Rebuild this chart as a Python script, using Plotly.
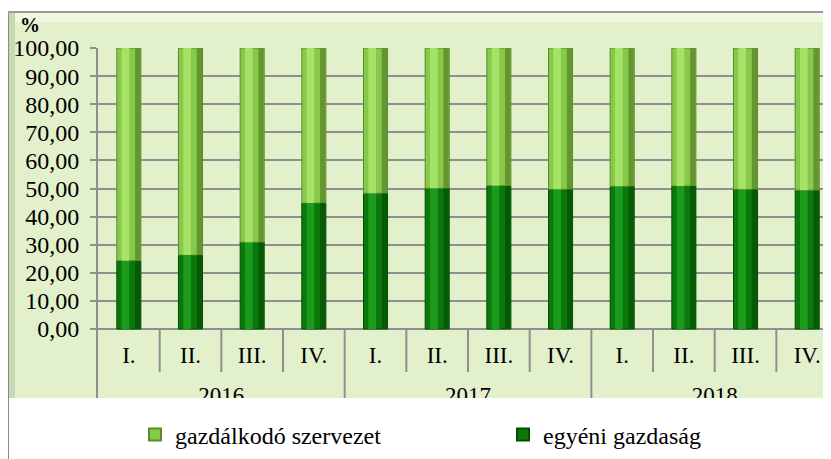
import plotly.graph_objects as go

# ---- data ----
quarters = ["I.", "II.", "III.", "IV.", "I.", "II.", "III.", "IV.", "I.", "II.", "III.", "IV."]
years = ["2016", "2017", "2018"]
egyeni = [24.3, 26.3, 30.9, 44.8, 48.3, 50.1, 51.0, 49.7, 50.8, 50.9, 49.7, 49.4]
gazdalkodo = [75.7, 73.7, 69.1, 55.2, 51.7, 49.9, 49.0, 50.3, 49.2, 49.1, 50.3, 50.6]
y_ticks = [0, 10, 20, 30, 40, 50, 60, 70, 80, 90, 100]
series_names = ["gazdálkodó szervezet", "egyéni gazdaság"]

W, H = 831, 459
FONT = "Liberation Serif, serif"
GRID = "#8f8f8f"

# plot area geometry (figure px)
L, T, PW, PH = 90, 40, 733, 350
B = H - T - PH
R = W - L - PW


def px(x):
    return (x - L) / PW


def py(y):
    return (T + PH - y) / PH


xs = list(range(len(quarters)))
n_per_year = len(quarters) // len(years)
year_centers = [i * n_per_year + (n_per_year - 1) / 2 for i in range(len(years))]

Y_BOTTOM = 100 - PH / 2.81
BW = 0.39

fig = go.Figure()

# main bars
fig.add_trace(go.Bar(x=xs, y=egyeni, base=[0] * len(xs), width=BW, name=series_names[1],
                     marker=dict(color="#0b780b", line=dict(color="#034d03", width=1)),
                     legend="legend2"))
fig.add_trace(go.Bar(x=xs, y=gazdalkodo, base=egyeni, width=BW, name=series_names[0],
                     marker=dict(color="#88c94b", line=dict(color="#5a8c2c", width=1)),
                     legend="legend"))


def stripe(vals, base, w, off, color):
    fig.add_trace(go.Bar(x=xs, y=vals, base=base, width=BW * w, offset=BW * off,
                         marker=dict(color=color, line=dict(width=0)),
                         showlegend=False, hoverinfo="skip"))


zero = [0] * len(xs)
# cylinder-like shading: bright stripe left of centre, dark right edge
stripe(egyeni, zero, 0.32, -0.3, "#1c9a1c")
stripe(egyeni, zero, 0.22, 0.26, "#055a05")
stripe(gazdalkodo, egyeni, 0.32, -0.3, "#a6e267")
stripe(gazdalkodo, egyeni, 0.22, 0.26, "#64952f")

# category dividers
minor_x, minor_y, major_x, major_y = [], [], [], []
for i in range(len(quarters) - 1):
    b = i + 0.5
    if (i + 1) % n_per_year == 0:
        major_x += [b, b, None]
        major_y += [0, Y_BOTTOM, None]
    else:
        minor_x += [b, b, None]
        minor_y += [0, -15.3, None]
fig.add_trace(go.Scatter(x=minor_x + major_x, y=minor_y + major_y, mode="lines",
                         line=dict(color=GRID, width=2), showlegend=False, hoverinfo="skip"))

# quarter labels and year labels (clipped by plot area)
fig.add_trace(go.Scatter(x=xs, y=[-10.0] * len(xs), mode="text", text=quarters,
                         textfont=dict(family=FONT, size=23, color="black"),
                         showlegend=False, hoverinfo="skip", cliponaxis=True))
fig.add_trace(go.Scatter(x=year_centers, y=[-24.4] * len(years), mode="text", text=years,
                         textfont=dict(family=FONT, size=23, color="black"),
                         showlegend=False, hoverinfo="skip", cliponaxis=True))

shapes = [
    # chart area background
    dict(type="rect", xref="paper", yref="paper", x0=px(0), x1=px(W + 10), y0=py(T + PH), y1=py(4),
         fillcolor="#e3f0cc", line=dict(width=0), layer="below"),
    # top bevel
    dict(type="rect", xref="paper", yref="paper", x0=px(2), x1=px(W + 10), y0=py(14), y1=py(5),
         fillcolor="#eff8e0", line=dict(width=0), layer="below"),
    # left bevel
    dict(type="rect", xref="paper", yref="paper", x0=px(1), x1=px(7), y0=py(T + PH), y1=py(5),
         fillcolor="#cad7b3", line=dict(width=0), layer="below"),
    # right bevel
    dict(type="rect", xref="paper", yref="paper", x0=px(817), x1=px(W + 10), y0=py(T + PH), y1=py(14),
         fillcolor="#ccd7b8", line=dict(width=0), layer="below"),
    # frame lines
    dict(type="line", xref="paper", yref="paper", x0=px(0), x1=px(0), y0=py(H + 5), y1=py(4),
         line=dict(color="#8a8a8a", width=2)),
    dict(type="line", xref="paper", yref="paper", x0=px(0), x1=px(W + 10), y0=py(4), y1=py(4),
         line=dict(color="#9a9a9a", width=2)),
]

legend_common = dict(orientation="h", xanchor="left", yanchor="middle",
                     yref="container", xref="container", y=1 - 427 / H,
                     font=dict(family=FONT, size=24, color="black"),
                     bgcolor="rgba(0,0,0,0)", itemsizing="constant")

fig.update_layout(
    width=W, height=H,
    margin=dict(l=L, r=R, t=T, b=B, pad=0, autoexpand=False),
    paper_bgcolor="white",
    plot_bgcolor="rgba(0,0,0,0)",
    barmode="overlay",
    separators=", ",
    font=dict(family=FONT, size=22, color="black"),
    shapes=shapes,
    showlegend=True,
    legend=dict(x=127 / W, **legend_common),
    legend2=dict(x=495 / W, **legend_common),
    annotations=[dict(text="<b>%</b>", xref="paper", yref="paper", x=px(22), y=py(17),
                      showarrow=False, font=dict(family=FONT, size=20, color="black"),
                      xanchor="center", yanchor="middle")],
)

fig.update_xaxes(range=[-0.5, -0.5 + PW / 61.67], showticklabels=False, showgrid=False,
                 zeroline=False, showline=False, ticks="")
fig.update_yaxes(range=[Y_BOTTOM, 100], tickvals=y_ticks, tickformat=".2f",
                 showgrid=True, gridcolor=GRID, gridwidth=2, zeroline=False,
                 showline=True, linecolor=GRID, linewidth=2,
                 ticks="outside", ticklen=6, tickcolor=GRID, tickwidth=2,
                 tickfont=dict(family=FONT, size=24, color="black"), ticklabelstandoff=6)

fig.write_html("out.html")
